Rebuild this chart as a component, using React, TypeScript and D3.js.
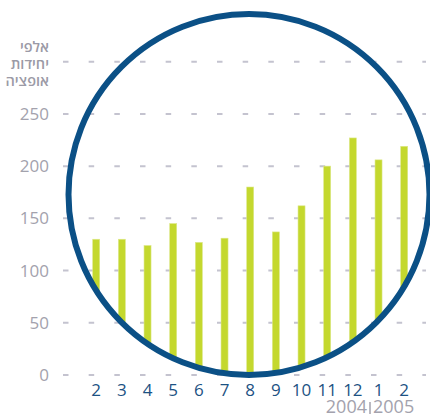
import * as d3 from "d3";

const W = 430;
const H = 416;

// months, Feb 2004 .. Feb 2005
const months = ["2", "3", "4", "5", "6", "7", "8", "9", "10", "11", "12", "1", "2"];
const values = [130, 130, 124, 145, 127, 131, 180, 137, 162, 200, 227, 206, 219];
const yTicks = [0, 50, 100, 150, 200, 250, 300];
const yTickLabels = ["0", "50", "100", "150", "200", "250", ""];
const titleLines = ["אלפי", "יחידות", "אופציה"];
const years = ["2004", "2005"];

const FONT = '"Open Sans", "DejaVu Sans", sans-serif';
const GRID_LEFT = 63;
const GRID_RIGHT = 426;
const BAR_W = 7;

export default function App() {
  const xScale = d3
    .scalePoint<number>()
    .domain(d3.range(months.length))
    .range([96.2, 404.2]);

  const yScale = d3.scaleLinear().domain([0, 300]).range([375, 61.7]);

  const step = xScale.step();

  // decorative ring
  const ring = { cx: 249, cy: 194.5, r: 180.5 };

  const sepX = 370;

  return (
    <svg
      width={W}
      height={H}
      style={{ position: "absolute", left: 0, top: 0, background: "#fff" }}
    >
      <defs>
        <clipPath id="ringClip">
          <circle cx={ring.cx} cy={ring.cy} r={ring.r} />
        </clipPath>
      </defs>

      {/* dashed gridlines */}
      {yTicks.map((t) => (
        <line
          key={t}
          x1={GRID_LEFT}
          x2={GRID_RIGHT}
          y1={yScale(t)}
          y2={yScale(t)}
          stroke="#c4c3cf"
          strokeWidth={2}
          strokeDasharray={`5.5 ${step - 5.5}`}
        />
      ))}

      {/* y tick labels */}
      {yTicks.map((t, i) => (
        <text
          key={t}
          x={49}
          y={yScale(t) + 6}
          textAnchor="end"
          fontFamily={FONT}
          fontSize={17}
          fill="#a3a2ad"
        >
          {yTickLabels[i]}
        </text>
      ))}

      {/* unit title */}
      {titleLines.map((s, i) => (
        <text
          key={i}
          x={49}
          y={52 + i * 17}
          textAnchor="end"
          fontFamily={FONT}
          fontSize={14.5}
          fontWeight={600}
          fill="#9b9aa6"
        >
          {s}
        </text>
      ))}

      {/* bars, visible only inside the ring */}
      <g clipPath="url(#ringClip)">
        {values.map((v, i) => (
          <rect
            key={i}
            x={(xScale(i) ?? 0) - BAR_W / 2}
            y={yScale(v)}
            width={BAR_W}
            height={yScale(0) - yScale(v)}
            fill="#c4d82e"
            stroke="#dde88a"
            strokeWidth={0.6}
          />
        ))}
      </g>

      <circle
        cx={ring.cx}
        cy={ring.cy}
        r={ring.r}
        fill="none"
        stroke="#0b5086"
        strokeWidth={6}
      />

      {/* month labels */}
      {months.map((m, i) => (
        <text
          key={i}
          x={xScale(i)}
          y={396}
          textAnchor="middle"
          fontFamily={FONT}
          fontSize={17}
          fill="#1c5283"
        >
          {m}
        </text>
      ))}

      {/* years */}
      <text
        x={sepX - 3}
        y={413}
        textAnchor="end"
        fontFamily={FONT}
        fontSize={18}
        fill="#a3a2ad"
      >
        {years[0]}
      </text>
      <line x1={sepX} x2={sepX} y1={402} y2={414} stroke="#a3a2ad" strokeWidth={1.5} />
      <text
        x={sepX + 3}
        y={413}
        textAnchor="start"
        fontFamily={FONT}
        fontSize={18}
        fill="#a3a2ad"
      >
        {years[1]}
      </text>
    </svg>
  );
}
